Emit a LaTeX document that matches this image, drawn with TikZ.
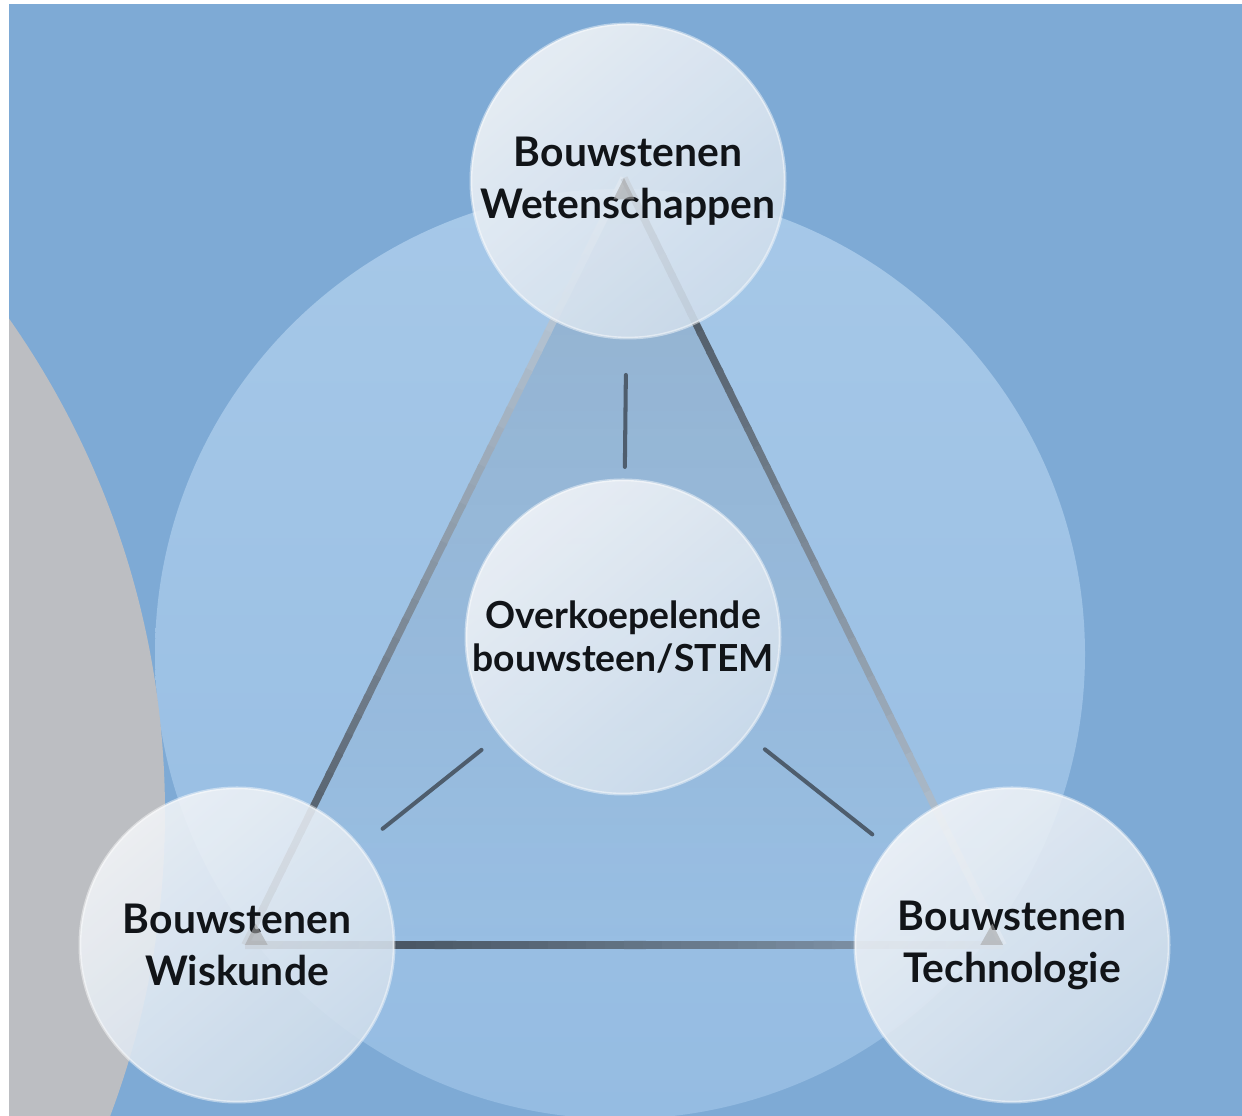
\documentclass[tikz,border=0pt]{standalone}
\usepackage{fontspec}
\setmainfont{Lato}
\usetikzlibrary{calc,fadings}
\definecolor{bg}{HTML}{7EAAD5}
\definecolor{bigtop}{HTML}{A6C8E8}
\definecolor{bigbot}{HTML}{95BCE2}
\definecolor{graycirc}{HTML}{BCBEC2}
\definecolor{slate}{HTML}{34414F}
\definecolor{darkline}{HTML}{38434F}
\definecolor{lightline}{HTML}{C6D6E6}
\definecolor{midline}{HTML}{8CA2B8}
\definecolor{spokecol}{HTML}{4E5D6D}
\definecolor{glasstop}{HTML}{F3F5F8}
\definecolor{glassbot}{HTML}{D0DEEC}
\definecolor{txt}{HTML}{111418}
\pgfdeclarelayer{back}
\pgfsetlayers{back,main}
\begin{document}
\begin{tikzpicture}[x=0.01cm,y=0.01cm,
  bub/.style={circle, minimum size=3.14cm, inner sep=0pt, outer sep=0pt,
    top color=glasstop, bottom color=glassbot, shading angle=40,
    fill opacity=0.88, text opacity=1, draw=white, draw opacity=0.45,
    line width=0.8pt, align=center, text=txt,
    font=\fontsize{11.6}{14.8}\selectfont\bfseries},
  bubsmall/.style={bub, font=\fontsize{10.6}{12.2}\selectfont\bfseries},
  edge/.style={line width=2.1pt},
  spoke/.style={draw=spokecol, line width=1.15pt, line cap=round},
  tipmark/.style={fill=gray!70!white, fill opacity=0.6}]
\useasboundingbox (0,0) rectangle (1242,1116);

% nodes
\node[bub] (wet) at (628,935) {Bouwstenen\\Wetenschappen};
\node[bubsmall] (stem) at (623,479) {Overkoepelende\\bouwsteen/STEM};
\node[bub] (wis) at (237,171) {Bouwstenen\\Wiskunde};
\node[bub] (tech) at (1012,171) {Bouwstenen\\Technologie};

\coordinate (A) at (624,938);
\coordinate (B) at (245,171);
\coordinate (C) at (1003,171);

\begin{pgfonlayer}{back}
  \fill[bg] (0,0) rectangle (1242,1116);
  \shade[top color=bigtop, bottom color=bigbot] (620,462) circle[radius=465];
  \fill[graycirc] (-696,303) circle[radius=861];
  \fill[slate, fill opacity=0.16, path fading=south] (A) -- (B) -- (C) -- cycle;
  % left edge: light at apex, dark at bottom
  \foreach \i in {0,...,39}{
    \pgfmathsetmacro\ta{\i/40}
    \pgfmathsetmacro\tb{min((\i+1.15)/40,1)}
    \pgfmathtruncatemacro\p{100*((\i+0.5)/40)^1.2}
    \draw[edge, darkline!\p!lightline] ($(A)!\ta!(B)$) -- ($(A)!\tb!(B)$);
  }
  % right edge: dark at apex, light at bottom
  \foreach \i in {0,...,39}{
    \pgfmathsetmacro\ta{\i/40}
    \pgfmathsetmacro\tb{min((\i+1.15)/40,1)}
    \pgfmathtruncatemacro\p{100*((\i+0.5)/40)}
    \draw[edge, lightline!\p!darkline] ($(A)!\ta!(C)$) -- ($(A)!\tb!(C)$);
  }
  % bottom edge: dark at left, lighter at right
  \foreach \i in {0,...,39}{
    \pgfmathsetmacro\ta{\i/40}
    \pgfmathsetmacro\tb{min((\i+1.15)/40,1)}
    \pgfmathtruncatemacro\p{100*((\i+0.5)/40)}
    \draw[edge, line width=2.3pt, midline!\p!darkline] ($(B)!\ta!(C)$) -- ($(B)!\tb!(C)$);
  }
  % spokes
  \draw[spoke, shorten <=3.7pt, shorten >=10.5pt] (stem) -- (wet);
  \draw[spoke, shorten <=6.8pt, shorten >=8.3pt] (stem) -- (wis);
  \draw[spoke, shorten <=6.8pt, shorten >=6pt] (stem) -- (tech);
\end{pgfonlayer}

% vertex tips
\fill[tipmark] (A) -- ($(A)!0.028!(B)$) -- ($(A)!0.028!(C)$) -- cycle;
\fill[tipmark] (B) -- ($(B)!0.028!(A)$) -- ($(B)!0.03!(C)$) -- cycle;
\fill[tipmark] (C) -- ($(C)!0.028!(A)$) -- ($(C)!0.03!(B)$) -- cycle;

% white margins
\fill[white] (0,0) rectangle (9,1116);
\fill[white] (0,1112) rectangle (1242,1116);
\end{tikzpicture}
\end{document}
